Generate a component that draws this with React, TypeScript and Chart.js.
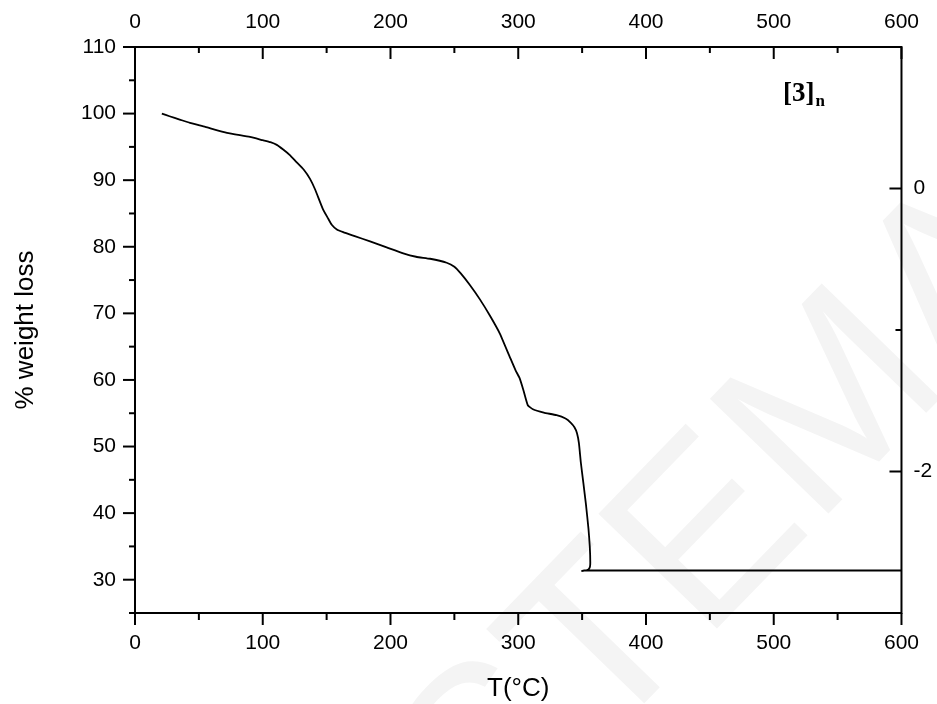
import React, { useEffect, useRef } from "react";
import { Chart, registerables } from "chart.js";

Chart.register(...registerables);

// Thermogravimetric trace of [3]n: temperature (°C) against remaining weight (%)
const temperatureC = [
  21, 27, 35, 43, 55, 72, 90, 100, 106, 111, 116, 121, 126, 132, 137, 141, 147,
  151, 154, 158, 163, 172, 184, 197, 210, 220, 231, 244, 250, 255, 262, 270,
  278, 285.5, 293.5, 298, 301, 304, 307.5, 311.5, 320, 330, 337, 341, 344,
  346, 347.5, 349, 351, 353, 355, 356, 356.4, 356.1, 355, 353.3, 351.5, 349.4,
  351.5, 600,
];
const weightPct = [
  100.0, 99.6, 99.1, 98.6, 98.0, 97.1, 96.5, 96.0, 95.7, 95.3, 94.6, 93.8,
  92.8, 91.6, 90.2, 88.6, 85.7, 84.3, 83.3, 82.6, 82.2, 81.6, 80.8, 79.9, 79.0,
  78.5, 78.2, 77.6, 77.0, 76.0, 74.3, 72.1, 69.6, 67.0, 63.4, 61.4, 60.3, 58.5,
  56.2, 55.6, 55.1, 54.7, 54.2, 53.6, 52.9, 52.0, 50.5, 47.6, 44.5, 41.3, 37.6,
  35.0, 32.6, 31.9, 31.55, 31.42, 31.38, 31.3, 31.38, 31.38,
];

// Tick labels of the four axes
const bottomTicks = [0, 100, 200, 300, 400, 500, 600];
const topTicks = [0, 100, 200, 300, 400, 500, 600];
const leftTicks = [30, 40, 50, 60, 70, 80, 90, 100, 110];
const rightTicks = [0, -2];

const xTitle = "T(°C)";
const yTitle = "% weight loss";
const sampleName = "[3]";
const sampleSubscript = "n";
const watermarkText = "STEMA";

const WIDTH = 937;
const HEIGHT = 704;
const AREA = { left: 135, right: 902, top: 47, bottom: 613 };
const SANS = '"Liberation Sans", Arial, Helvetica, sans-serif';
const SERIF = '"Liberation Serif", "Times New Roman", serif';

const setTicks = (values: number[]) => (scale: any) => {
  scale.ticks = values.map((value) => ({ value }));
};

const tickFont = { family: SANS, size: 21 };

const backdrop = {
  id: "backdrop",
  beforeDraw(chart: any) {
    const { ctx } = chart;
    ctx.save();
    ctx.fillStyle = "#ffffff";
    ctx.fillRect(0, 0, chart.width, chart.height);
    ctx.translate(730, 520);
    ctx.rotate(-0.8);
    ctx.font = `240px ${SANS}`;
    ctx.fillStyle = "#f4f4f4";
    ctx.textAlign = "center";
    ctx.textBaseline = "middle";
    ctx.fillText(watermarkText, 0, 0);
    ctx.restore();
  },
};

const frameAndTicks = {
  id: "frameAndTicks",
  afterDraw(chart: any) {
    const { ctx, chartArea: a, scales } = chart;
    ctx.save();
    ctx.strokeStyle = "#000";
    ctx.lineWidth = 2;
    ctx.lineCap = "butt";
    ctx.strokeRect(a.left, a.top, a.right - a.left, a.bottom - a.top);
    const seg = (x1: number, y1: number, x2: number, y2: number) => {
      ctx.beginPath();
      ctx.moveTo(x1, y1);
      ctx.lineTo(x2, y2);
      ctx.stroke();
    };
    for (let v = 0; v <= 600; v += 50) {
      const major = v % 100 === 0;
      const px = scales.x.getPixelForValue(v);
      seg(px, a.bottom, px, a.bottom + (major ? 12 : 7));
      const pt = scales.x2.getPixelForValue(v);
      seg(pt, a.top, pt, a.top + (major ? 12 : 6));
    }
    for (let v = 25; v <= 110; v += 5) {
      const py = scales.y.getPixelForValue(v);
      seg(a.left - (v % 10 === 0 ? 12 : 6), py, a.left, py);
    }
    for (let v = -3; v <= 1; v += 1) {
      const py = scales.y2.getPixelForValue(v);
      seg(a.right - (v % 2 === 0 ? 12 : 6), py, a.right, py);
    }
    // sample label
    ctx.fillStyle = "#000";
    ctx.textBaseline = "alphabetic";
    ctx.textAlign = "left";
    ctx.font = `bold 27px ${SERIF}`;
    ctx.fillText(sampleName, 783, 101);
    const w = ctx.measureText(sampleName).width;
    ctx.font = `bold 17px ${SERIF}`;
    ctx.fillText(sampleSubscript, 783 + w + 1, 106);
    ctx.restore();
  },
};

export default function App() {
  const canvasRef = useRef<HTMLCanvasElement | null>(null);

  useEffect(() => {
    const canvas = canvasRef.current;
    if (!canvas) return;
    const points = temperatureC.map((t, i) => ({ x: t, y: weightPct[i] }));
    const chart = new Chart(canvas, {
      type: "scatter",
      data: {
        datasets: [
          {
            data: points,
            showLine: true,
            borderColor: "#000",
            borderWidth: 1.8,
            pointRadius: 0,
            tension: 0.15,
            xAxisID: "x",
            yAxisID: "y",
          },
        ],
      },
      options: {
        responsive: false,
        animation: false,
        devicePixelRatio: 1,
        layout: { padding: 0 },
        plugins: { legend: { display: false }, tooltip: { enabled: false } },
        scales: {
          x: {
            type: "linear",
            position: "bottom",
            min: 0,
            max: 600,
            afterBuildTicks: setTicks(bottomTicks),
            afterFit: (s: any) => {
              s.height = HEIGHT - AREA.bottom;
            },
            grid: { display: false, drawTicks: false },
            border: { display: false },
            ticks: { font: tickFont, color: "#000", padding: 18, maxRotation: 0, autoSkip: false },
            title: {
              display: true,
              text: xTitle,
              color: "#000",
              font: { family: SANS, size: 26 },
              padding: { top: 0, bottom: 0 },
            },
          },
          x2: {
            type: "linear",
            position: "top",
            min: 0,
            max: 600,
            afterBuildTicks: setTicks(topTicks),
            afterFit: (s: any) => {
              s.height = AREA.top;
            },
            grid: { display: false, drawTicks: false },
            border: { display: false },
            ticks: { font: tickFont, color: "#000", padding: 12, maxRotation: 0, autoSkip: false },
          },
          y: {
            type: "linear",
            position: "left",
            min: 25,
            max: 110,
            afterBuildTicks: setTicks(leftTicks),
            afterFit: (s: any) => {
              s.width = AREA.left;
            },
            grid: { display: false, drawTicks: false },
            border: { display: false },
            ticks: { font: tickFont, color: "#000", padding: 19, autoSkip: false },
            title: {
              display: true,
              text: yTitle,
              color: "#000",
              font: { family: SANS, size: 26 },
              padding: { top: 10, bottom: 0 },
            },
          },
          y2: {
            type: "linear",
            position: "right",
            min: -3,
            max: 1,
            afterBuildTicks: setTicks(rightTicks),
            afterFit: (s: any) => {
              s.width = WIDTH - AREA.right;
            },
            grid: { display: false, drawTicks: false },
            border: { display: false },
            ticks: { font: tickFont, color: "#000", padding: 12, autoSkip: false },
          },
        },
      },
      plugins: [backdrop, frameAndTicks],
    });
    return () => chart.destroy();
  }, []);

  return (
    <div style={{ position: "absolute", left: 0, top: 0, width: WIDTH, height: HEIGHT, background: "#fff" }}>
      <canvas ref={canvasRef} width={WIDTH} height={HEIGHT} style={{ width: WIDTH, height: HEIGHT, display: "block" }} />
    </div>
  );
}
